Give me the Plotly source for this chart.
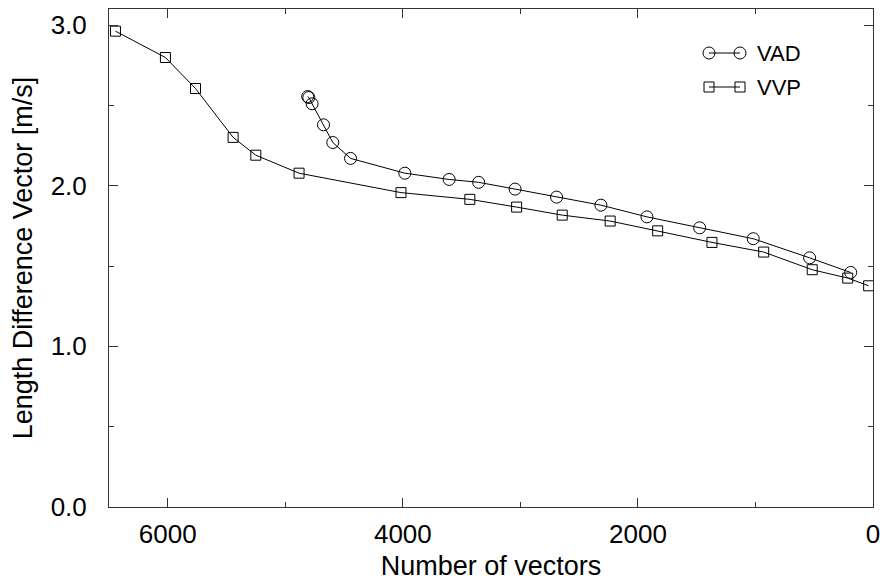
import plotly.graph_objects as go

# Data
vad_x = [4810, 4800, 4772, 4675, 4596, 4445, 3983, 3606, 3355, 3045, 2692, 2315, 1923, 1475, 1019, 539, 190]
vad_y = [2.555, 2.549, 2.510, 2.379, 2.269, 2.170, 2.078, 2.039, 2.021, 1.979, 1.929, 1.879, 1.806, 1.738, 1.670, 1.551, 1.460]

vvp_x = [6445, 6020, 5764, 5444, 5251, 4883, 4016, 3430, 3032, 2644, 2236, 1832, 1370, 930, 517, 215, 37]
vvp_y = [2.962, 2.798, 2.605, 2.301, 2.190, 2.078, 1.957, 1.915, 1.867, 1.817, 1.780, 1.719, 1.647, 1.587, 1.477, 1.425, 1.377]

x_ticks = [6000, 4000, 2000, 0]
y_ticks = [0.0, 1.0, 2.0, 3.0]
y_tick_labels = ["0.0", "1.0", "2.0", "3.0"]

FONT = "Liberation Sans, Arial, sans-serif"
FRAME = "#333333"
FS = 26
FT = 27

fig = go.Figure()
fig.add_trace(go.Scatter(x=vad_x, y=vad_y, mode="lines+markers", name="VAD",
                         line=dict(color="black", width=1),
                         marker=dict(symbol="circle-open", size=12, color="black", line=dict(width=1)),
                         showlegend=False))
fig.add_trace(go.Scatter(x=vvp_x, y=vvp_y, mode="lines+markers", name="VVP",
                         line=dict(color="black", width=1),
                         marker=dict(symbol="square-open", size=10, color="black", line=dict(width=1)),
                         showlegend=False))

# Custom legend drawn on an overlay axis in plot-pixel-like units
leg_items = [("VAD", "circle-open", 12, 53), ("VVP", "square-open", 10, 87)]
for name, sym, sz, yy in leg_items:
    fig.add_trace(go.Scatter(x=[709, 740], y=[yy, yy], mode="lines+markers",
                             xaxis="x2", yaxis="y2", showlegend=False, hoverinfo="skip",
                             line=dict(color="black", width=1),
                             marker=dict(symbol=sym, size=sz, color="black", line=dict(width=1))))
    fig.add_annotation(x=755, y=yy, xref="x2", yref="y2", text=name, showarrow=False,
                       xanchor="left", yanchor="middle", font=dict(family=FONT, size=22, color="black"))

axis_common = dict(showline=True, linecolor=FRAME, linewidth=1, mirror="allticks",
                   ticks="inside", ticklen=9, tickcolor=FRAME, tickwidth=1,
                   showgrid=False, zeroline=False, ticklabeloverflow="allow", automargin=False,
                   tickfont=dict(family=FONT, size=FS, color="black"))

fig.update_layout(
    width=880, height=581,
    margin=dict(l=109, r=7, t=9, b=74),
    plot_bgcolor="white", paper_bgcolor="white",
    xaxis=dict(range=[6500, 0], tickvals=x_ticks, ticktext=[str(v) for v in x_ticks],
               minor=dict(dtick=1000, ticks="inside", ticklen=5, tickcolor=FRAME, showgrid=False),
               ticklabelstandoff=4,
               title=dict(text="Number of vectors", font=dict(family=FONT, size=FT, color="black"), standoff=10),
               **axis_common),
    yaxis=dict(range=[0, 3.10], tickvals=y_ticks, ticktext=y_tick_labels,
               minor=dict(dtick=0.5, ticks="inside", ticklen=5, tickcolor=FRAME, showgrid=False),
               ticklabelstandoff=16,
               title=dict(text="Length Difference Vector [m/s]", font=dict(family=FONT, size=FT, color="black"), standoff=10),
               **axis_common),
    xaxis2=dict(range=[109, 873], overlaying="x", visible=False, fixedrange=True),
    yaxis2=dict(range=[507, 9], overlaying="y", visible=False, fixedrange=True),
)

fig.write_html("out.html", config={"displayModeBar": False},
               post_script="document.body.style.margin='0';document.body.style.overflow='hidden';")
